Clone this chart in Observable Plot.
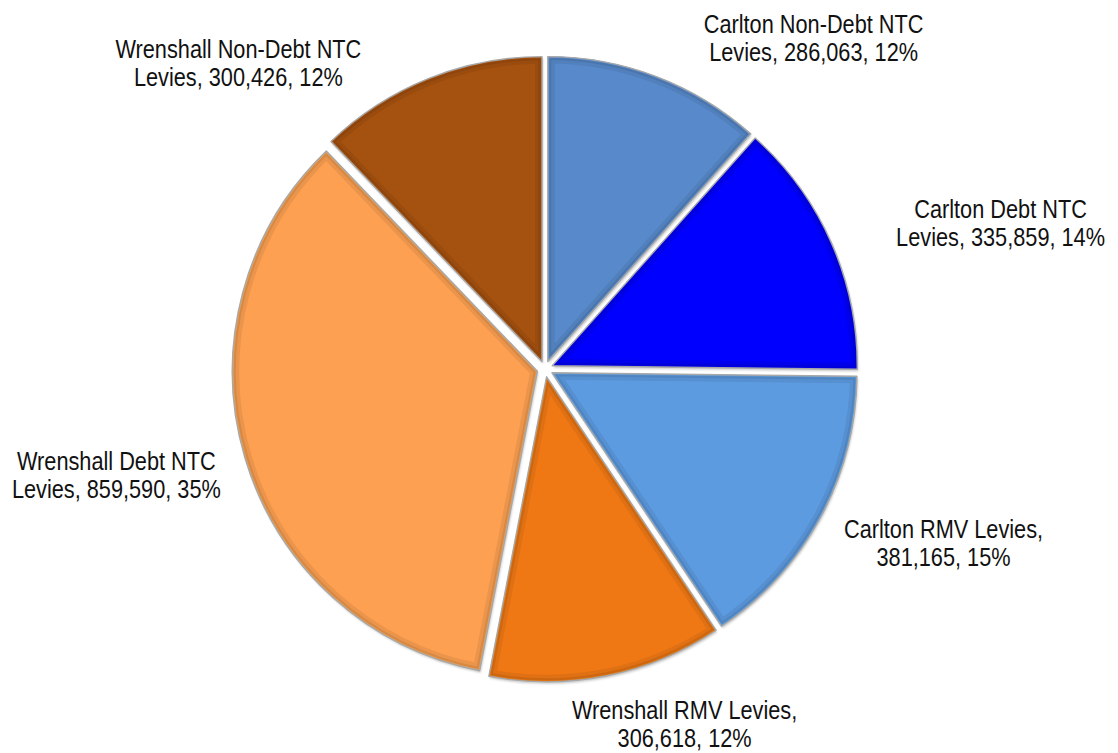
<!DOCTYPE html>
<html><head><meta charset="utf-8">
<script src="https://cdn.jsdelivr.net/npm/d3@7"></script>
<script src="https://cdn.jsdelivr.net/npm/@observablehq/plot@0.6"></script>
<style>html,body{margin:0;padding:0;background:#fff} #chart svg{display:block}</style>
</head><body><div id="chart"></div>
<script>
// ---- data ----
const categories = [
  "Carlton Non-Debt NTC Levies",
  "Carlton Debt NTC Levies",
  "Carlton RMV Levies",
  "Wrenshall RMV Levies",
  "Wrenshall Debt NTC Levies",
  "Wrenshall Non-Debt NTC Levies"
];
const values = [286063, 335859, 381165, 306618, 859590, 300426];
// ---- styles / layout ----
const colors = ["#588ACB", "#0000FF", "#5D9BE1", "#F07814", "#FDA052", "#A5510F"];
// label block centres, in pie-radius units relative to the pie centre
const labelAnchors = [[0.879, 1.086], [1.492, 0.480], [1.305, -0.570], [0.456, -1.163], [-1.407, -0.347], [-1.007, 1.004]];

const W = 1118, H = 753, cx = 545, cy = 369, R = 305;
const total = d3.sum(values);
const fmt = d3.format(",");
const arcs = d3.pie().sort(null).value(d => d)(values);

function labelText(c, v) {
  const pct = Math.round(v / total * 100);
  let s = `${c}, ${fmt(v)}, ${pct}%`;
  if (c.includes("NTC")) s = s.replace(" Levies,", "\nLevies,");
  else s = s.replace("Levies, ", "Levies,\n");
  return s;
}
const labels = categories.map((c, i) => ({
  label: labelText(c, values[i]),
  lx: labelAnchors[i][0],
  ly: labelAnchors[i][1]
}));

function pieMark(index, scales) {
  const x = scales.x, y = scales.y;
  const ox = x(0), oy = y(0), r = x(1) - x(0);
  const explode = 0.026 * r;
  const g0 = d3.create("svg:g");
  const defs = g0.append("defs");
  const arcGen = d3.arc().innerRadius(0).outerRadius(r);
  const filt = defs.append("filter").attr("id", "pshadow").attr("x", "-10%").attr("y", "-10%").attr("width", "120%").attr("height", "120%");
  filt.append("feGaussianBlur").attr("stdDeviation", 1.2);
  arcs.forEach((a, i) => {
    const mid = (a.startAngle + a.endAngle) / 2;
    const dx = Math.sin(mid) * explode, dy = -Math.cos(mid) * explode;
    const d = arcGen(a);
    const g = g0.append("g").attr("transform", `translate(${ox + dx},${oy + dy})`);
    const id = "sliceclip" + i;
    defs.append("clipPath").attr("id", id).append("path").attr("d", d);
    g.append("path").attr("d", d).attr("fill", "#000").attr("fill-opacity", 0.22)
      .attr("transform", "translate(1,2)").attr("filter", "url(#pshadow)");
    g.append("path").attr("d", d).attr("fill", colors[i]);
    const dark = d3.color(colors[i]).darker(1.2).formatHex();
    const light = d3.color(colors[i]).brighter(0.6).formatHex();
    const inner = g.append("g").attr("clip-path", `url(#${id})`);
    inner.append("path").attr("d", d).attr("fill", "none").attr("stroke", dark)
      .attr("stroke-width", 14).attr("stroke-opacity", 0.2);
    inner.append("path").attr("d", d).attr("fill", "none").attr("stroke", dark)
      .attr("stroke-width", 7).attr("stroke-opacity", 0.28);
    inner.append("path").attr("d", d).attr("fill", "none").attr("stroke", light)
      .attr("stroke-width", 3).attr("stroke-opacity", 0.35);
    g.append("path").attr("d", d).attr("fill", "none").attr("stroke", "#a8a8a8")
      .attr("stroke-width", 1.4).attr("stroke-linejoin", "round");
  });
  return g0.node();
}

const chart = Plot.plot({
  width: W,
  height: H,
  margin: 0,
  style: {background: "#fff"},
  x: {domain: [-cx / R, (W - cx) / R], axis: null},
  y: {domain: [-(H - cy) / R, cy / R], axis: null},
  marks: [
    pieMark,
    Plot.text(labels, {
      x: "lx", y: "ly", text: "label",
      fontSize: 26.5, lineHeight: 1.06,
      fontFamily: "'Liberation Sans', Arial, sans-serif",
      fill: "#111", textAnchor: "middle", lineAnchor: "middle",
      className: "pie-label"
    })
  ]
});
// condense the labels horizontally (Arial Narrow look) about their anchor
d3.select(chart).selectAll("text").each(function () {
  const t = d3.select(this);
  const tr = t.attr("transform");
  if (tr) {
    t.attr("transform", tr + " scale(0.82,1)");
  } else {
    const tx = +t.attr("x") || 0, ty = +t.attr("y") || 0;
    t.attr("x", null).attr("y", null).attr("transform", `translate(${tx},${ty}) scale(0.82,1)`);
  }
});
document.getElementById("chart").appendChild(chart);
</script>
</body></html>
